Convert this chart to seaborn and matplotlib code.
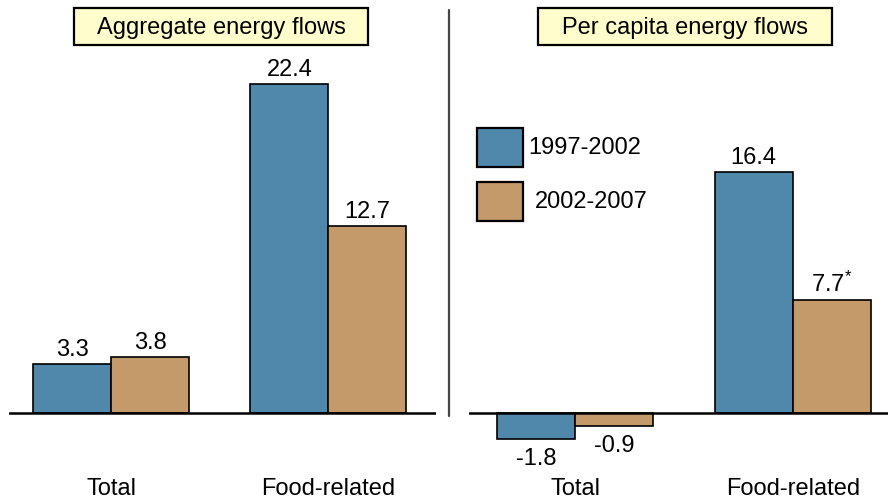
import matplotlib
matplotlib.use("Agg")
import matplotlib.pyplot as plt
from matplotlib.patches import Rectangle
from matplotlib.lines import Line2D
import pandas as pd
import seaborn as sns

categories = ["Total", "Food-related"]
periods = ["1997-2002", "2002-2007"]
aggregate_values = {"1997-2002": [3.3, 22.4], "2002-2007": [3.8, 12.7]}
per_capita_values = {"1997-2002": [-1.8, 16.4], "2002-2007": [-0.9, 7.7]}
per_capita_labels = {"1997-2002": ["-1.8", "16.4"], "2002-2007": ["-0.9", "7.7$^{*}$"]}
aggregate_labels = {p: [f"{v:.1f}" for v in aggregate_values[p]] for p in periods}
panel_titles = ["Aggregate energy flows", "Per capita energy flows"]

BLUE = "#5088AB"
TAN = "#C49A6B"
BOX = "#FFFDCC"

sns.set_theme(style="white")
plt.rcParams["font.family"] = ["Liberation Sans", "DejaVu Sans"]
plt.rcParams["mathtext.fontset"] = "custom"
plt.rcParams["mathtext.rm"] = "Liberation Sans"
plt.rcParams["mathtext.it"] = "Liberation Sans"
plt.rcParams["text.color"] = "black"
plt.rcParams["xtick.color"] = "black"
plt.rcParams["xtick.labelcolor"] = "black"
FS = 17

W, H = 888, 502
fig = plt.figure(figsize=(W / 100, H / 100), dpi=100)


def px_axes(x0, x1, ytop, ybot):
    return fig.add_axes([x0 / W, 1 - ybot / H, (x1 - x0) / W, (ybot - ytop) / H])


def to_frame(values):
    rows = []
    for p in periods:
        for c, v in zip(categories, values[p]):
            rows.append({"category": c, "period": p, "value": v})
    return pd.DataFrame(rows)


BASE = 413.5
SCALE = 14.65
AX_TOP, AX_BOT = 50, 470
CAT_PX = 217.4


def draw_panel(ax, values, labels, x_left, x_right, first_center):
    df = to_frame(values)
    sns.barplot(data=df, x="category", y="value", hue="period", order=categories,
                hue_order=periods, palette=[BLUE, TAN], width=0.718,
                edgecolor="black", linewidth=1.2, saturation=1, legend=False, ax=ax)
    ax.set_xlim((x_left - first_center) / CAT_PX, (x_right - first_center) / CAT_PX)
    ax.set_ylim(-(AX_BOT - BASE) / SCALE, (BASE - AX_TOP) / SCALE)
    ax.axhline(0, color="black", lw=1.8, zorder=5)
    for s in ax.spines.values():
        s.set_visible(False)
    ax.set_xlabel("")
    ax.set_ylabel("")
    ax.set_yticks([])
    ax.set_xticks(range(len(categories)))
    ax.set_xticklabels(categories, fontsize=FS, color="black")
    ax.tick_params(axis="x", length=0, pad=6)
    for container, p in zip(ax.containers, periods):
        for bar, v, lab in zip(container, values[p], labels[p]):
            xc = bar.get_x() + bar.get_width() / 2
            if v >= 0:
                ax.annotate(lab, (xc, v), xytext=(0, 3), textcoords="offset points",
                            ha="center", va="bottom", fontsize=FS, color="black")
            else:
                ax.annotate(lab, (xc, v), xytext=(0, -6), textcoords="offset points",
                            ha="center", va="top", fontsize=FS, color="black")


ax1 = px_axes(9, 436, AX_TOP, AX_BOT)
draw_panel(ax1, aggregate_values, aggregate_labels, 9, 436, 111)
ax2 = px_axes(469, 888, AX_TOP, AX_BOT)
draw_panel(ax2, per_capita_values, per_capita_labels, 469, 888, 575.3)

# Panel title boxes
for (x0, x1), title in zip([(74, 368), (538, 832)], panel_titles):
    fig.patches.append(Rectangle((x0 / W, 1 - 46 / H), (x1 - x0) / W, 37 / H,
                                 transform=fig.transFigure, facecolor=BOX,
                                 edgecolor="black", lw=1.6))
    fig.text((x0 + x1) / 2 / W, 1 - 28 / H, title, ha="center", va="center",
             fontsize=FS, color="black")

# Separator between panels
fig.lines.append(Line2D([449 / W, 449 / W], [1 - 11 / H, 1 - 417 / H],
                        transform=fig.transFigure, color="#444444", lw=1.6))

# Legend
legend_rows = [(periods[0], BLUE, 129, 528), (periods[1], TAN, 183, 535)]
for label, color, ytop, xtext in legend_rows:
    fig.patches.append(Rectangle((477 / W, 1 - (ytop + 39) / H), 46 / W, 39 / H,
                                 transform=fig.transFigure, facecolor=color,
                                 edgecolor="black", lw=1.6))
    fig.text(xtext / W, 1 - (ytop + 19.5) / H, label, ha="left", va="center",
             fontsize=FS, color="black")

fig.savefig("out.png", dpi=100)
